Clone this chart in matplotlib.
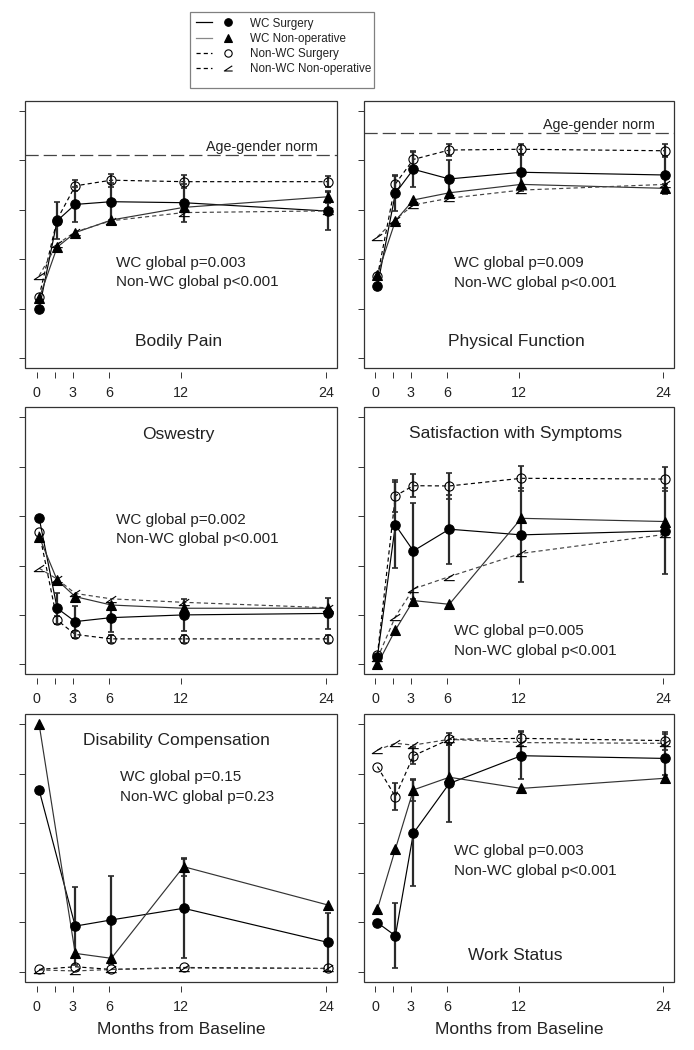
import numpy as np
import matplotlib
matplotlib.use('Agg')
import matplotlib.pyplot as plt
from matplotlib.path import Path
from matplotlib.lines import Line2D
from matplotlib.legend_handler import HandlerTuple
from matplotlib.patches import Rectangle

plt.rcParams['font.family'] = ['Liberation Sans', 'DejaVu Sans']
plt.rcParams['lines.scale_dashes'] = False

# ---------------- data ----------------
TIMES = [0, 1.5, 3, 6, 12, 24]
TIMES_DC = [0, 3, 6, 12, 24]
TICK_POS = [0, 1.5, 3, 6, 12, 24]
TICK_LABELS = ['0', '', '3', '6', '12', '24']
Y_TICKS = [0, 20, 40, 60, 80, 100]
SERIES_NAMES = ['WC Surgery', 'WC Non-operative', 'Non-WC Surgery', 'Non-WC Non-operative']

# Bodily Pain
bp_wc_surg = [19.7, 55.5, 62.1, 63.2, 62.8, 59.4]
bp_wc_surg_err = [0, 7.4, 7.2, 7.4, 7.7, 7.7]
bp_wc_nonop = [24.1, 44.8, 50.7, 55.8, 60.9, 65.2]
bp_wc_nonop_err = [0, 0, 0, 0, 0, 2.4]
bp_nwc_surg = [24.8, 56.0, 69.6, 71.9, 71.3, 71.3]
bp_nwc_surg_err = [0, 0, 2.2, 2.7, 2.7, 2.3]
bp_nwc_nonop = [33.2, 46.0, 51.0, 55.5, 58.8, 59.5]
bp_nwc_nonop_err = [0, 0, 0, 0, 0, 0]
bp_norm = 82.1

# Physical Function
pf_wc_surg = [29.1, 66.6, 76.3, 72.4, 75.1, 74.0]
pf_wc_surg_err = [0, 7.0, 7.3, 7.7, 7.5, 7.5]
pf_wc_nonop = [33.6, 55.5, 63.9, 66.8, 70.2, 68.6]
pf_wc_nonop_err = [0, 0, 0, 0, 0, 1.7]
pf_nwc_surg = [33.0, 70.4, 80.3, 84.1, 84.4, 83.8]
pf_nwc_surg_err = [0, 3.6, 3.1, 2.4, 2.2, 2.7]
pf_nwc_nonop = [49.0, 56.0, 61.9, 64.6, 67.9, 70.2]
pf_nwc_nonop_err = [0, 0, 0, 0, 0, 0]
pf_norm = 91.0

# Oswestry
od_wc_surg = [59.4, 22.7, 17.3, 18.9, 20.0, 20.6]
od_wc_surg_err = [0, 6.3, 6.5, 6.0, 6.5, 6.2]
od_wc_nonop = [51.7, 34.1, 27.4, 24.0, 22.7, 22.7]
od_wc_nonop_err = [0, 0, 0, 0, 0, 0]
od_nwc_surg = [53.7, 17.9, 12.1, 10.3, 10.3, 10.3]
od_nwc_surg_err = [0, 1.5, 1.5, 1.5, 1.5, 1.5]
od_nwc_nonop = [38.9, 34.5, 28.7, 26.5, 25.1, 22.9]
od_nwc_nonop_err = [0, 0, 0, 0, 0, 0]

# Satisfaction with Symptoms
ss_wc_surg = [3.1, 56.4, 45.9, 54.7, 52.4, 54.0]
ss_wc_surg_err = [0, 17.3, 19.3, 14.0, 18.9, 17.5]
ss_wc_nonop = [0.0, 13.9, 25.8, 24.3, 59.1, 57.8]
ss_wc_nonop_err = [0, 0, 0, 0, 0, 0]
ss_nwc_surg = [3.8, 68.2, 72.3, 72.2, 75.3, 75.0]
ss_nwc_surg_err = [0, 6.5, 4.7, 5.4, 5.0, 5.0]
ss_nwc_nonop = [2.4, 19.3, 30.5, 35.5, 44.9, 52.6]
ss_nwc_nonop_err = [0, 0, 0, 0, 0, 0]

# Disability Compensation (no 6-week visit)
dc_wc_surg = [73.4, 18.4, 20.9, 25.6, 11.8]
dc_wc_surg_err = [0, 15.6, 17.9, 19.9, 11.7]
dc_wc_nonop = [100.0, 7.4, 5.4, 42.4, 26.9]
dc_wc_nonop_err = [0, 0, 0, 3.6, 0]
dc_nwc_surg = [0.9, 2.0, 0.9, 1.7, 1.3]
dc_nwc_surg_err = [0, 0, 0, 0, 0]
dc_nwc_nonop = [0.7, 0.3, 0.9, 1.5, 1.3]
dc_nwc_nonop_err = [0, 0, 0, 0, 0]

# Work Status
ws_wc_surg = [19.8, 14.5, 55.9, 76.0, 87.2, 86.1]
ws_wc_surg_err = [0, 13.2, 21.3, 15.5, 9.6, 10.0]
ws_wc_nonop = [25.2, 49.5, 73.4, 78.5, 74.0, 78.1]
ws_wc_nonop_err = [0, 0, 4.3, 0, 0, 1.5]
ws_nwc_surg = [82.8, 70.7, 87.2, 93.8, 94.2, 93.3]
ws_nwc_surg_err = [0, 5.5, 3.5, 2.4, 3.1, 3.6]
ws_nwc_nonop = [89.5, 92.2, 91.5, 93.8, 92.5, 92.2]
ws_nwc_nonop_err = [0, 0, 0, 0, 0, 0]

TITLES = ['Bodily Pain', 'Physical Function', 'Oswestry',
          'Satisfaction with Symptoms', 'Disability Compensation', 'Work Status']
P_WC = ['WC global p=0.003', 'WC global p=0.009', 'WC global p=0.002',
        'WC global p=0.005', 'WC global p=0.15', 'WC global p=0.003']
P_NWC = ['Non-WC global p<0.001', 'Non-WC global p<0.001', 'Non-WC global p<0.001',
         'Non-WC global p<0.001', 'Non-WC global p=0.23', 'Non-WC global p<0.001']
NORM_LABEL = 'Age-gender norm'
XLABEL = 'Months from Baseline'

# ---------------- style ----------------
X_OFFSET = 0.2
angle_marker = Path([(0.45, 0.32), (-0.5, -0.3), (0.5, -0.3)],
                    [Path.MOVETO, Path.LINETO, Path.LINETO])
STYLES = [
    dict(color='black', ls='-', marker='o', mfc='black', ms=6.8, mew=0.8),
    dict(color='#333333', ls='-', marker='^', mfc='black', ms=6.8, mew=0.8),
    dict(color='black', ls=(0, (3.0, 2.2)), marker='o', mfc='none', ms=6.6, mew=0.8),
    dict(color='#444444', ls=(0, (3.0, 2.2)), marker=angle_marker, mfc='none', ms=7.5, mew=0.8),
]

panels = [
    dict(t=TIMES, series=[(bp_wc_surg, bp_wc_surg_err), (bp_wc_nonop, bp_wc_nonop_err),
                          (bp_nwc_surg, bp_nwc_surg_err), (bp_nwc_nonop, bp_nwc_nonop_err)],
         norm=bp_norm, title_xy=(11.8, 6.5), p_xy=(6.6, 38.5, 30.6)),
    dict(t=TIMES, series=[(pf_wc_surg, pf_wc_surg_err), (pf_wc_nonop, pf_wc_nonop_err),
                          (pf_nwc_surg, pf_nwc_surg_err), (pf_nwc_nonop, pf_nwc_nonop_err)],
         norm=pf_norm, title_xy=(11.8, 6.5), p_xy=(6.6, 38.3, 30.5)),
    dict(t=TIMES, series=[(od_wc_surg, od_wc_surg_err), (od_wc_nonop, od_wc_nonop_err),
                          (od_nwc_surg, od_nwc_surg_err), (od_nwc_nonop, od_nwc_nonop_err)],
         norm=None, title_xy=(11.8, 93.2), p_xy=(6.6, 58.4, 50.7)),
    dict(t=TIMES, series=[(ss_wc_surg, ss_wc_surg_err), (ss_wc_nonop, ss_wc_nonop_err),
                          (ss_nwc_surg, ss_nwc_surg_err), (ss_nwc_nonop, ss_nwc_nonop_err)],
         norm=None, title_xy=(11.7, 93.5), p_xy=(6.6, 13.5, 5.4)),
    dict(t=TIMES_DC, series=[(dc_wc_surg, dc_wc_surg_err), (dc_wc_nonop, dc_wc_nonop_err),
                             (dc_nwc_surg, dc_nwc_surg_err), (dc_nwc_nonop, dc_nwc_nonop_err)],
         norm=None, title_xy=(11.6, 93.5), p_xy=(6.9, 78.5, 70.6)),
    dict(t=TIMES, series=[(ws_wc_surg, ws_wc_surg_err), (ws_wc_nonop, ws_wc_nonop_err),
                          (ws_nwc_surg, ws_nwc_surg_err), (ws_nwc_nonop, ws_nwc_nonop_err)],
         norm=None, title_xy=(11.7, 6.7), p_xy=(6.6, 48.6, 40.7)),
]

W, H = 694, 1050
fig = plt.figure(figsize=(W / 100, H / 100), dpi=100)

col_x = [(25.1, 337.3), (363.5, 674.2)]
row_y = [(100.8, 367.9), (407.4, 674.2), (714.1, 981.6)]

for i, p in enumerate(panels):
    r, c = divmod(i, 2)
    x0, x1 = col_x[c]
    y0, y1 = row_y[r]
    ax = fig.add_axes([x0 / W, 1 - y1 / H, (x1 - x0) / W, (y1 - y0) / H])
    ax.set_xlim(-0.96, 24.96)
    ax.set_ylim(-4, 104)
    for s in ax.spines.values():
        s.set_visible(False)
    ax.spines['bottom'].set_position(('outward', 3))
    ax.add_patch(Rectangle((0, 0), 1, 1, transform=ax.transAxes, fill=False,
                           edgecolor='#333333', lw=0.9, clip_on=False, zorder=10))
    ax.set_xticks(TICK_POS)
    ax.set_xticklabels(TICK_LABELS)
    ax.set_yticks(Y_TICKS)
    ax.set_yticklabels([])
    ax.tick_params(axis='x', direction='out', length=4.5, width=0.7, color='#333333',
                   labelsize=10.3, pad=5.5, labelcolor='#222222')
    ax.tick_params(axis='y', direction='out', length=4, width=0.7, color='#333333')

    t = np.array(p['t'], dtype=float) + X_OFFSET
    order = [3, 2, 1, 0]
    for k in order:
        vals, errs = p['series'][k]
        vals = np.array(vals, dtype=float)
        errs = np.array(errs, dtype=float)
        st = STYLES[k]
        ax.plot(t, vals, color=st['color'], ls=st['ls'], lw=0.85, zorder=2 + k * 0.1)
        mask = errs > 0
        if mask.any():
            ax.errorbar(t[mask], vals[mask], yerr=errs[mask], fmt='none', ecolor='#2a2a2a',
                        elinewidth=1.6, capsize=2.5, capthick=1.2, zorder=3 + k * 0.1)
        ax.plot(t, vals, ls='none', marker=st['marker'], ms=st['ms'], mfc=st['mfc'],
                mec='black', mew=st['mew'], zorder=4 + k * 0.1)

    if p['norm'] is not None:
        ax.axhline(p['norm'], color='#444444', lw=0.9, ls=(0, (9.5, 3.6)), zorder=1)
        ax.text(18.7, p['norm'] + 0.3, NORM_LABEL, ha='center', va='bottom', fontsize=10.3,
                color='#222222', zorder=5)

    ax.text(p['title_xy'][0], p['title_xy'][1], TITLES[i], ha='center', va='center',
            fontsize=12.5, color='#222222')
    ax.text(p['p_xy'][0], p['p_xy'][1], P_WC[i], ha='left', va='center', fontsize=11,
            color='#222222')
    ax.text(p['p_xy'][0], p['p_xy'][2], P_NWC[i], ha='left', va='center', fontsize=11,
            color='#222222')
    if r == 2:
        ax.set_xlabel(XLABEL, fontsize=12.5, labelpad=6, color='#222222')

# legend
handles = []
for k in range(4):
    st = STYLES[k]
    lcol = '#888888' if k == 1 else 'black'
    line_h = Line2D([], [], color=lcol, ls=st['ls'], lw=0.9)
    mark_h = Line2D([], [], ls='none', marker=st['marker'], ms=st['ms'] * 0.8, mfc=st['mfc'],
                    mec='black', mew=st['mew'])
    handles.append((line_h, mark_h))
leg = fig.legend(handles, SERIES_NAMES, loc='upper left',
                 bbox_to_anchor=(196 / W, 1 - 17.5 / H), frameon=False, fontsize=8.4,
                 handler_map={tuple: HandlerTuple(ndivide=None, pad=0.6)},
                 handlelength=3.4, handletextpad=1.2, labelspacing=0.28, borderpad=0,
                 borderaxespad=0)
for txt in leg.get_texts():
    txt.set_color('#222222')
fig.patches.append(Rectangle((190 / W, 1 - 88 / H), 184 / W, 76 / H, transform=fig.transFigure,
                             fill=False, edgecolor='#808080', lw=0.9))

fig.savefig('out.png', dpi=100)
